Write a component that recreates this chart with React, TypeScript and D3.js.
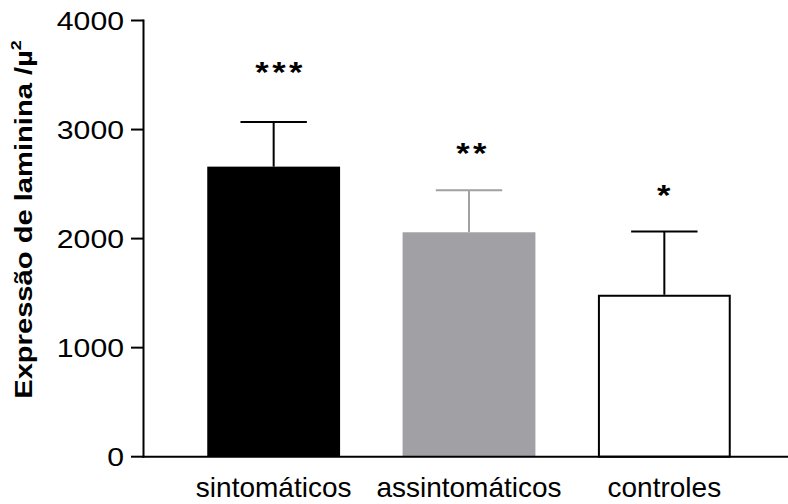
import React from 'react';
import * as d3 from 'd3';

const categories = ['sintomáticos', 'assintomáticos', 'controles'];
const means = [2660, 2058, 1485];
const sem = [410, 385, 580];
const stars = ['***', '**', '*'];
const starLevel = [3590, 2845, 2460]; // centre of the asterisks, data units
const yTicks = [0, 1000, 2000, 3000, 4000];

const barFill = ['#000000', '#a1a0a5', '#ffffff'];
const barStroke = ['#000000', '#a1a0a5', '#000000'];

const W = 788;
const H = 504;
const axisX = 143.5;
const font = '"Liberation Sans", Arial, Helvetica, sans-serif';

export default function App() {
  const x = d3
    .scaleBand<string>()
    .domain(categories)
    .range([176, 762])
    .paddingInner(0.32)
    .paddingOuter(0.16);

  const y = d3.scaleLinear().domain([0, 4000]).range([456.7, 20.5]);
  const bw = x.bandwidth();
  const capW = bw / 2;

  return (
    <svg
      width={W}
      height={H}
      style={{ position: 'absolute', left: 0, top: 0, background: '#fff' }}
      fontFamily={font}
    >
      {/* bars + error bars */}
      {categories.map((c, i) => {
        const x0 = x(c)!;
        const cx = x0 + bw / 2;
        const top = y(means[i]);
        const errTop = y(means[i] + sem[i]);
        const outline = barFill[i] === '#ffffff';
        // asterisk groups sit a touch right of centre, more so the longer they are
        const starShift = 3 * stars[i].length - 2;
        return (
          <g key={c}>
            <line x1={cx} x2={cx} y1={top} y2={errTop} stroke={barStroke[i]} strokeWidth={2} />
            <line
              x1={cx - capW / 2}
              x2={cx + capW / 2}
              y1={errTop}
              y2={errTop}
              stroke={barStroke[i]}
              strokeWidth={2}
            />
            <rect
              x={outline ? x0 + 1 : x0}
              y={outline ? top + 1 : top}
              width={outline ? bw - 2 : bw}
              height={outline ? y(0) - top - 1 : y(0) - top}
              fill={barFill[i]}
              stroke={outline ? '#000' : 'none'}
              strokeWidth={2}
            />
            <text
              transform={`translate(${cx + starShift},${y(starLevel[i]) + 17}) scale(1.15,1)`}
              textAnchor="middle"
              fontSize={30}
              fontWeight="bold"
              letterSpacing={3}
            >
              {stars[i]}
            </text>
            <text x={cx} y={496.5} textAnchor="middle" fontSize={28}>
              {c}
            </text>
          </g>
        );
      })}

      {/* y axis */}
      <line x1={axisX} x2={axisX} y1={y(4000) - 1} y2={y(0) + 1} stroke="#000" strokeWidth={2} />
      {yTicks.map((t) => (
        <g key={t}>
          <line x1={131} x2={axisX} y1={y(t)} y2={y(t)} stroke="#000" strokeWidth={2} />
          <text
            transform={`translate(124,${y(t) + 9.5}) scale(1.14,1)`}
            textAnchor="end"
            fontSize={26.5}
          >
            {t}
          </text>
        </g>
      ))}

      {/* x axis */}
      <line x1={axisX - 1} x2={W} y1={y(0)} y2={y(0)} stroke="#000" strokeWidth={2} />

      {/* y axis title */}
      <text
        transform={`translate(32,219.5) rotate(-90) scale(1.19,1)`}
        textAnchor="middle"
        fontSize={24.5}
        fontWeight="bold"
      >
        Expressão de laminina /µ
        <tspan fontSize={15} dy={-11}>
          2
        </tspan>
      </text>
    </svg>
  );
}
